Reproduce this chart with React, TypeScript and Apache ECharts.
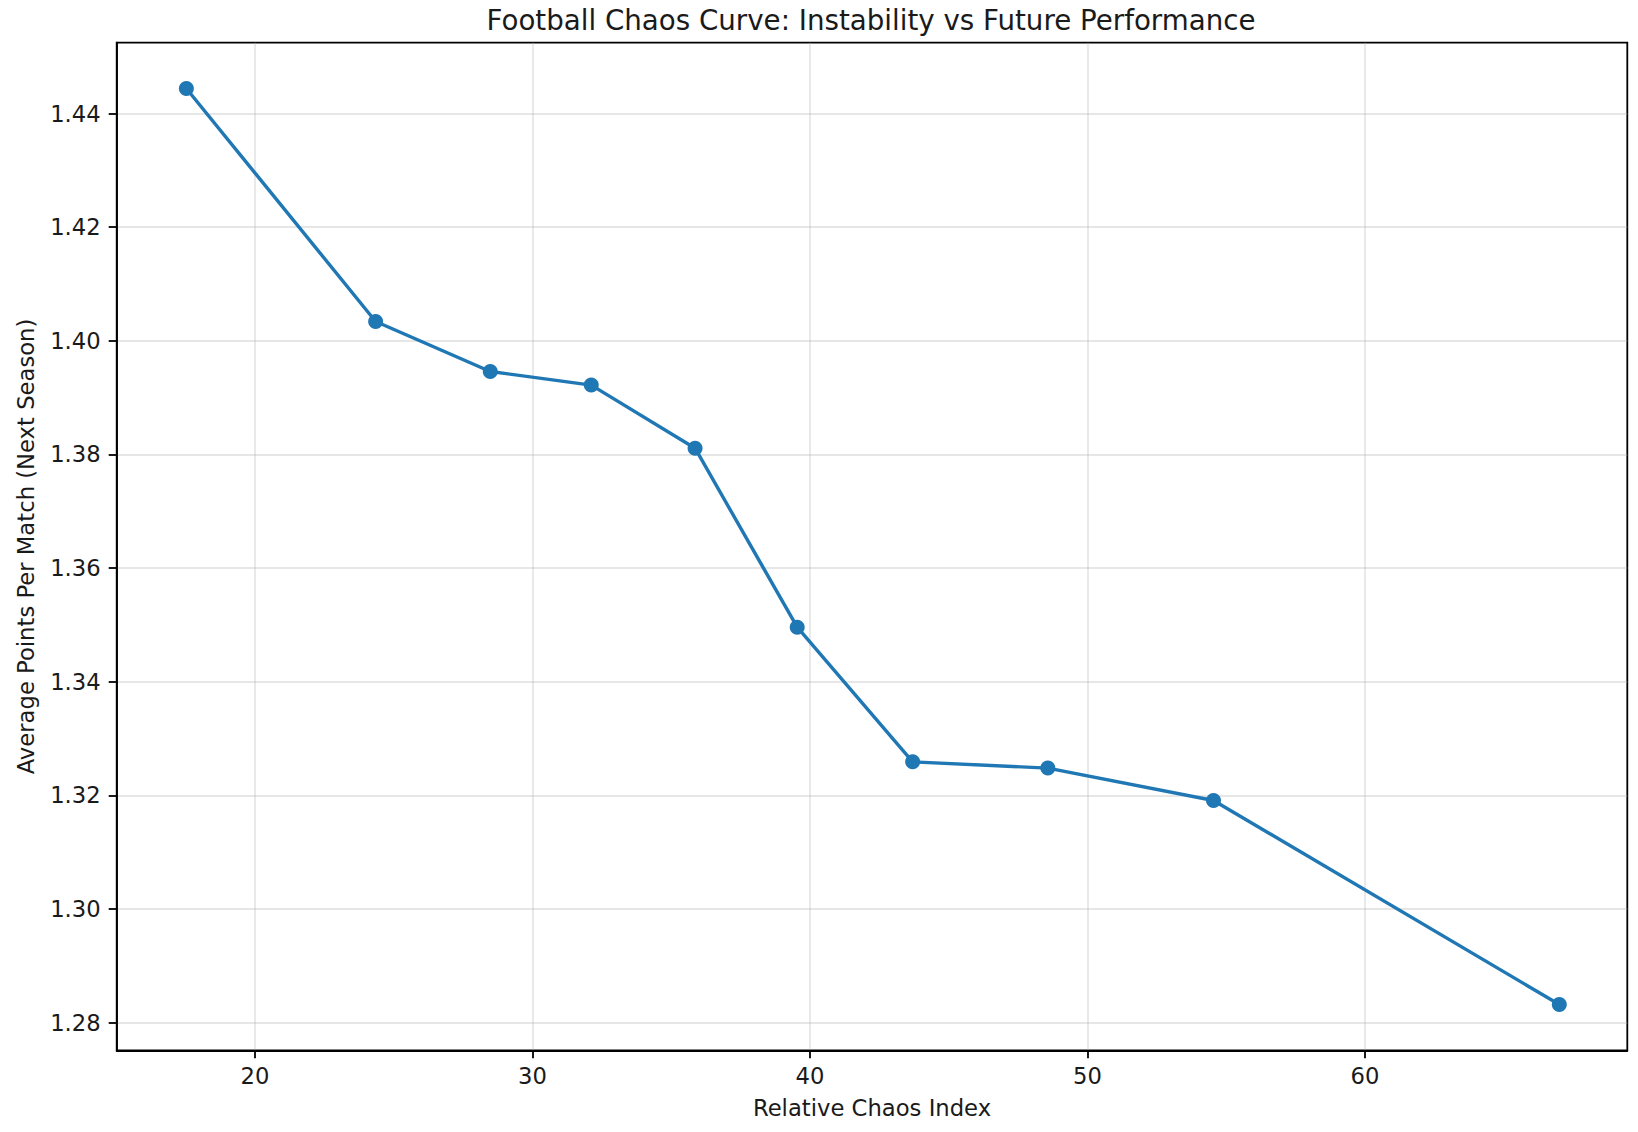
import React, { useEffect, useRef } from "react";
import * as echarts from "echarts";

const chartTitle = "Football Chaos Curve: Instability vs Future Performance";
const xAxisName = "Relative Chaos Index";
const yAxisName = "Average Points Per Match (Next Season)";

const chaosIndex = [17.53, 24.35, 28.48, 32.12, 35.86, 39.54, 43.7, 48.57, 54.54, 67.0];
const pointsNextSeason = [1.4444, 1.4034, 1.3946, 1.3922, 1.3811, 1.3496, 1.3259, 1.3248, 1.3191, 1.2832];

const xTicks = [20, 30, 40, 50, 60];
const yTicks = [1.28, 1.3, 1.32, 1.34, 1.36, 1.38, 1.4, 1.42, 1.44];

const FONT = "'DejaVu Sans', sans-serif";
const TEXT = "#1a1a1a";
const GRIDLINE = "rgba(176,176,176,0.32)";

export default function App() {
  const ref = useRef<HTMLDivElement>(null);

  useEffect(() => {
    document.body.style.margin = "0";
    document.body.style.overflow = "hidden";
    const chart = echarts.init(ref.current!, null, { renderer: "svg" });
    const data = chaosIndex.map((x, i) => [x, pointsNextSeason[i]]);
    chart.setOption({
      animation: false,
      backgroundColor: "#ffffff",
      title: {
        text: chartTitle,
        left: 866,
        textAlign: "center",
        top: 1.5,
        textStyle: { fontFamily: FONT, fontSize: 27.7, fontWeight: "normal", color: TEXT },
      },
      grid: {
        left: 116.7,
        top: 42.7,
        right: 10.7,
        bottom: 81.7,
        show: true,
        borderColor: "#000",
        borderWidth: 1.8,
        backgroundColor: "transparent",
      },
      xAxis: {
        type: "value",
        min: 15.02,
        max: 69.45,
        name: xAxisName,
        nameLocation: "middle",
        nameGap: 46,
        nameTextStyle: { fontFamily: FONT, fontSize: 22.7, color: TEXT },
        axisLine: { show: true, lineStyle: { color: "#000", width: 1.8 } },
        axisTick: {
          show: true,
          inside: false,
          length: 8,
          lineStyle: { color: "#000", width: 1.8 },
          customValues: xTicks,
        },
        axisLabel: {
          fontFamily: FONT,
          fontSize: 22.7,
          color: TEXT,
          margin: 14,
          customValues: xTicks,
        },
        splitLine: { show: true, lineStyle: { color: GRIDLINE, width: 1.8 } },
      },
      yAxis: {
        type: "value",
        min: 1.27514,
        max: 1.45246,
        name: yAxisName,
        nameLocation: "middle",
        nameGap: 79,
        nameTextStyle: { fontFamily: FONT, fontSize: 22.7, color: TEXT },
        axisLine: { show: true, lineStyle: { color: "#000", width: 1.8 } },
        axisTick: {
          show: true,
          inside: false,
          length: 8,
          lineStyle: { color: "#000", width: 1.8 },
          customValues: yTicks,
        },
        axisLabel: {
          fontFamily: FONT,
          fontSize: 22.7,
          color: TEXT,
          margin: 16,
          customValues: yTicks,
          formatter: (v: number) => v.toFixed(2),
        },
        splitLine: { show: true, lineStyle: { color: GRIDLINE, width: 1.8 } },
      },
      series: [
        {
          type: "line",
          data,
          symbol: "circle",
          symbolSize: 15,
          showSymbol: true,
          itemStyle: { color: "#1f77b4" },
          lineStyle: { color: "#1f77b4", width: 3.4 },
          z: 3,
        },
      ],
    });
    return () => chart.dispose();
  }, []);

  return (
    <div
      ref={ref}
      style={{ position: "absolute", left: 0, top: 0, width: 1638, height: 1132 }}
    />
  );
}
